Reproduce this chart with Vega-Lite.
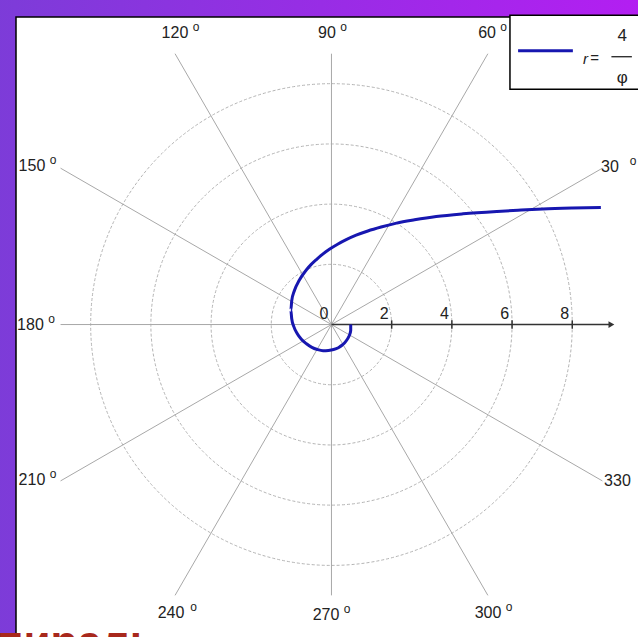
{
  "$schema": "https://vega.github.io/schema/vega-lite/v6.json",
  "width": 624,
  "height": 622,
  "padding": {"left": 16, "top": 17, "right": 0, "bottom": 0},
  "autosize": {"type": "none"},
  "background": "#8a38de",
  "config": {"view": {"stroke": null, "fill": null}, "text": {"font": "Liberation Sans"}},
  "datasets": {
    "frame": [{"x": -11.3, "x2": 10.6, "y": -10.9, "y2": 11.0}],
    "panel": [{"x": -10.48, "x2": 10.6, "y": -10.9, "y2": 10.22}],
    "circles": [{"x": 0, "y": 0, "r": 2}, {"x": 0, "y": 0, "r": 4}, {"x": 0, "y": 0, "r": 6}, {"x": 0, "y": 0, "r": 8}],
    "spokes": [
      {"a": 30, "x": 0, "y": 0, "x2": 9, "y2": 5.196}, {"a": 60, "x": 0, "y": 0, "x2": 5.196, "y2": 9},
      {"a": 90, "x": 0, "y": 0, "x2": 0, "y2": 9}, {"a": 120, "x": 0, "y": 0, "x2": -5.196, "y2": 9},
      {"a": 150, "x": 0, "y": 0, "x2": -9, "y2": 5.196}, {"a": 180, "x": 0, "y": 0, "x2": -9, "y2": 0},
      {"a": 210, "x": 0, "y": 0, "x2": -9, "y2": -5.196}, {"a": 240, "x": 0, "y": 0, "x2": -5.196, "y2": -9},
      {"a": 270, "x": 0, "y": 0, "x2": 0, "y2": -9}, {"a": 300, "x": 0, "y": 0, "x2": 5.196, "y2": -9},
      {"a": 330, "x": 0, "y": 0, "x2": 9, "y2": -5.196}
    ],
    "axisline": [
      {"x": 0, "y": 0, "x2": 9.3, "y2": 0},
      {"x": 2, "y": -0.14, "x2": 2, "y2": 0.14},
      {"x": 4, "y": -0.14, "x2": 4, "y2": 0.14},
      {"x": 6, "y": -0.14, "x2": 6, "y2": 0.14},
      {"x": 8, "y": -0.14, "x2": 8, "y2": 0.14}
    ],
    "arrow": [{"x": 9.3, "y": 0}],
    "ticklabels": [{"x": 0, "y": 0, "t": "0"}, {"x": 2, "y": 0, "t": "2"}, {"x": 4, "y": 0, "t": "4"}, {"x": 6, "y": 0, "t": "6"}, {"x": 8, "y": 0, "t": "8"}],
    "spiral": [
      {"i": 0, "x": 8.95, "y": 3.89}, {"i": 1, "x": 8.0, "y": 3.87}, {"i": 2, "x": 7.02, "y": 3.84},
      {"i": 3, "x": 6.2, "y": 3.8}, {"i": 4, "x": 5.5, "y": 3.76}, {"i": 5, "x": 4.37, "y": 3.68},
      {"i": 6, "x": 3.48, "y": 3.59}, {"i": 7, "x": 2.76, "y": 3.48}, {"i": 8, "x": 2.16, "y": 3.37},
      {"i": 9, "x": 1.65, "y": 3.24}, {"i": 10, "x": 1.21, "y": 3.11}, {"i": 11, "x": 0.82, "y": 2.97},
      {"i": 12, "x": 0.49, "y": 2.82}, {"i": 13, "x": 0.19, "y": 2.66}, {"i": 14, "x": -0.07, "y": 2.5},
      {"i": 15, "x": -0.3, "y": 2.33}, {"i": 16, "x": -0.5, "y": 2.16}, {"i": 17, "x": -0.68, "y": 1.99},
      {"i": 18, "x": -0.83, "y": 1.82}, {"i": 19, "x": -1.07, "y": 1.47}, {"i": 20, "x": -1.23, "y": 1.13},
      {"i": 21, "x": -1.32, "y": 0.79}, {"i": 22, "x": -1.35, "y": 0.48}, {"i": 23, "x": -1.32, "y": 0.19},
      {"i": 24, "x": -1.25, "y": -0.07}, {"i": 25, "x": -1.14, "y": -0.3}, {"i": 26, "x": -1.0, "y": -0.49},
      {"i": 27, "x": -0.83, "y": -0.64}, {"i": 28, "x": -0.65, "y": -0.76}, {"i": 29, "x": -0.47, "y": -0.83},
      {"i": 30, "x": -0.28, "y": -0.87}, {"i": 31, "x": -0.1, "y": -0.86}, {"i": 32, "x": 0.07, "y": -0.83},
      {"i": 33, "x": 0.23, "y": -0.77}, {"i": 34, "x": 0.36, "y": -0.68}, {"i": 35, "x": 0.47, "y": -0.57},
      {"i": 36, "x": 0.55, "y": -0.45}, {"i": 37, "x": 0.61, "y": -0.32}, {"i": 38, "x": 0.64, "y": -0.19},
      {"i": 39, "x": 0.64, "y": 0.0}
    ],
    "labels": [
      {"t": "120", "x": -5.2, "y": 9.68},
      {"t": "90", "x": -0.15, "y": 9.68},
      {"t": "60", "x": 5.17, "y": 9.68},
      {"t": "30", "x": 9.25, "y": 5.23},
      {"t": "150", "x": -9.95, "y": 5.27},
      {"t": "180", "x": -10.0, "y": 0.0},
      {"t": "210", "x": -9.95, "y": -5.17},
      {"t": "330", "x": 9.5, "y": -5.2},
      {"t": "240", "x": -5.33, "y": -9.58},
      {"t": "270", "x": -0.18, "y": -9.65},
      {"t": "300", "x": 5.2, "y": -9.58}
    ],
    "degrees": [
      {"a": 120, "x": -4.5, "y": 9.88},
      {"a": 90, "x": 0.4, "y": 9.88},
      {"a": 60, "x": 5.72, "y": 9.88},
      {"a": 30, "x": 10.02, "y": 5.43},
      {"a": 150, "x": -9.25, "y": 5.47},
      {"a": 180, "x": -9.3, "y": 0.2},
      {"a": 210, "x": -9.25, "y": -4.97},
      {"a": 240, "x": -4.58, "y": -9.38},
      {"a": 270, "x": 0.52, "y": -9.45},
      {"a": 300, "x": 5.9, "y": -9.38}
    ],
    "legendbox": [{"x": 5.93, "x2": 10.6, "y": 7.82, "y2": 10.28}],
    "legendline": [{"x": 6.2, "x2": 8.02, "y": 9.1, "y2": 9.1}],
    "fracbar": [{"x": 9.3, "x2": 9.98, "y": 8.9, "y2": 8.9}],
    "legendr": [{"x": 8.52, "y": 8.82, "t": "r"}],
    "legendtext": [{"x": 8.6, "y": 8.85, "t": "="}],
    "legendfrac": [{"x": 9.66, "y": 9.6, "t": "4"}, {"x": 9.66, "y": 8.2, "t": "φ"}],
    "title": [{"x": -5.8, "y": -11.04, "t": "спираль"}]
  },
  "layer": [
    {
      "data": {"name": "frame"},
      "mark": {"type": "rect", "color": {"gradient": "linear", "x1": 0, "y1": 0, "x2": 1, "y2": 0, "stops": [{"offset": 0, "color": "#7c3cd8"}, {"offset": 1, "color": "#b41ef2"}]}},
      "encoding": {
        "x": {"field": "x", "type": "quantitative", "scale": {"domain": [-10.48, 10.25], "nice": false, "zero": false}, "axis": null},
        "x2": {"field": "x2"},
        "y": {"field": "y", "type": "quantitative", "scale": {"domain": [-10.45, 10.22], "nice": false, "zero": false}, "axis": null},
        "y2": {"field": "y2"}
      }
    },
    {
      "data": {"name": "panel"},
      "mark": {"type": "rect", "fill": "white", "stroke": "black", "strokeWidth": 1.5},
      "encoding": {
        "x": {"field": "x", "type": "quantitative"},
        "x2": {"field": "x2"},
        "y": {"field": "y", "type": "quantitative"},
        "y2": {"field": "y2"}
      }
    },
    {
      "data": {"name": "circles"},
      "mark": {"type": "point", "shape": "circle", "filled": false, "stroke": "#b4b4b4", "strokeWidth": 1, "strokeDash": [3, 2], "opacity": 1},
      "encoding": {
        "x": {"field": "x", "type": "quantitative"},
        "y": {"field": "y", "type": "quantitative"},
        "size": {"field": "r", "type": "quantitative", "scale": {"type": "pow", "exponent": 2, "domain": [0, 8], "range": [0, 231938]}, "legend": null}
      }
    },
    {
      "data": {"name": "spokes"},
      "mark": {"type": "rule", "color": "#a8a8a8", "strokeWidth": 1},
      "encoding": {
        "x": {"field": "x", "type": "quantitative"},
        "y": {"field": "y", "type": "quantitative"},
        "x2": {"field": "x2"},
        "y2": {"field": "y2"}
      }
    },
    {
      "data": {"name": "axisline"},
      "mark": {"type": "rule", "color": "#333333", "strokeWidth": 1.5},
      "encoding": {
        "x": {"field": "x", "type": "quantitative"},
        "y": {"field": "y", "type": "quantitative"},
        "x2": {"field": "x2"},
        "y2": {"field": "y2"}
      }
    },
    {
      "data": {"name": "arrow"},
      "mark": {"type": "point", "shape": "triangle-right", "filled": true, "color": "#333333", "size": 45, "opacity": 1},
      "encoding": {
        "x": {"field": "x", "type": "quantitative"},
        "y": {"field": "y", "type": "quantitative"}
      }
    },
    {
      "data": {"name": "ticklabels"},
      "mark": {"type": "text", "align": "right", "baseline": "bottom", "dx": -3, "dy": -3, "fontSize": 16, "color": "#222222"},
      "encoding": {
        "x": {"field": "x", "type": "quantitative"},
        "y": {"field": "y", "type": "quantitative"},
        "text": {"field": "t"}
      }
    },
    {
      "data": {"name": "spiral"},
      "mark": {"type": "line", "color": "#1717b0", "strokeWidth": 3, "interpolate": "monotone"},
      "encoding": {
        "x": {"field": "x", "type": "quantitative"},
        "y": {"field": "y", "type": "quantitative"},
        "order": {"field": "i", "type": "quantitative"}
      }
    },
    {
      "data": {"name": "labels"},
      "mark": {"type": "text", "align": "center", "baseline": "middle", "fontSize": 16, "color": "#222222"},
      "encoding": {
        "x": {"field": "x", "type": "quantitative"},
        "y": {"field": "y", "type": "quantitative"},
        "text": {"field": "t"}
      }
    },
    {
      "data": {"name": "degrees"},
      "mark": {"type": "text", "align": "center", "baseline": "middle", "fontSize": 12, "color": "#222222"},
      "encoding": {
        "x": {"field": "x", "type": "quantitative"},
        "y": {"field": "y", "type": "quantitative"},
        "text": {"value": "o"}
      }
    },
    {
      "data": {"name": "legendbox"},
      "mark": {"type": "rect", "fill": "white", "stroke": "black", "strokeWidth": 1.5},
      "encoding": {
        "x": {"field": "x", "type": "quantitative"},
        "x2": {"field": "x2"},
        "y": {"field": "y", "type": "quantitative"},
        "y2": {"field": "y2"}
      }
    },
    {
      "data": {"name": "legendline"},
      "mark": {"type": "rule", "color": "#1717b0", "strokeWidth": 3},
      "encoding": {
        "x": {"field": "x", "type": "quantitative"},
        "x2": {"field": "x2"},
        "y": {"field": "y", "type": "quantitative"},
        "y2": {"field": "y2"}
      }
    },
    {
      "data": {"name": "fracbar"},
      "mark": {"type": "rule", "color": "#222222", "strokeWidth": 1.3},
      "encoding": {
        "x": {"field": "x", "type": "quantitative"},
        "x2": {"field": "x2"},
        "y": {"field": "y", "type": "quantitative"},
        "y2": {"field": "y2"}
      }
    },
    {
      "data": {"name": "legendr"},
      "mark": {"type": "text", "align": "right", "baseline": "middle", "fontSize": 15, "fontStyle": "italic", "color": "#222222"},
      "encoding": {
        "x": {"field": "x", "type": "quantitative"},
        "y": {"field": "y", "type": "quantitative"},
        "text": {"field": "t"}
      }
    },
    {
      "data": {"name": "legendtext"},
      "mark": {"type": "text", "align": "left", "baseline": "middle", "fontSize": 15, "color": "#222222"},
      "encoding": {
        "x": {"field": "x", "type": "quantitative"},
        "y": {"field": "y", "type": "quantitative"},
        "text": {"field": "t"}
      }
    },
    {
      "data": {"name": "legendfrac"},
      "mark": {"type": "text", "align": "center", "baseline": "middle", "fontSize": 17, "color": "#222222"},
      "encoding": {
        "x": {"field": "x", "type": "quantitative"},
        "y": {"field": "y", "type": "quantitative"},
        "text": {"field": "t"}
      }
    },
    {
      "data": {"name": "title"},
      "mark": {"type": "text", "align": "right", "baseline": "alphabetic", "fontSize": 44, "fontWeight": "bold", "color": "#a8281c"},
      "encoding": {
        "x": {"field": "x", "type": "quantitative"},
        "y": {"field": "y", "type": "quantitative"},
        "text": {"field": "t"}
      }
    }
  ]
}
